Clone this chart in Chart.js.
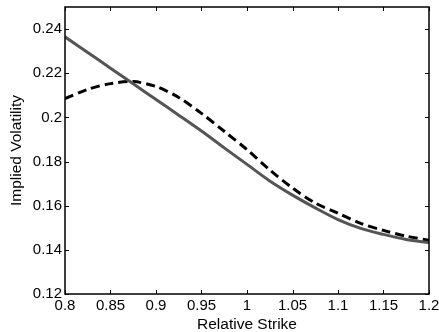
<!DOCTYPE html>
<html>
<head>
<meta charset="utf-8">
<script src="https://cdn.jsdelivr.net/npm/chart.js@4.4.0/dist/chart.umd.min.js"></script>
<style>
  html, body { margin: 0; padding: 0; background: #fff; }
  #wrap { width: 439px; height: 332px; }
</style>
</head>
<body>
<div id="wrap"><canvas id="chart"></canvas></div>
<script>
'use strict'

// relative strike grid
const strikes = [0.8, 0.825, 0.85, 0.875, 0.9, 0.925, 0.95, 0.975, 1.0,
  1.025, 1.05, 1.075, 1.1, 1.125, 1.15, 1.175, 1.2]

// solid grey curve
const volSolid = [0.2365, 0.2294, 0.2223, 0.2152, 0.2081, 0.2010, 0.1938, 0.1862, 0.1787,
  0.1712, 0.1648, 0.1590, 0.1537, 0.1497, 0.1470, 0.1447, 0.1433]

// dashed black curve
const volDashed = [0.2085, 0.2127, 0.2153, 0.2162, 0.2140, 0.2090, 0.2018, 0.1937, 0.1854,
  0.1762, 0.1680, 0.1612, 0.1566, 0.1520, 0.1488, 0.1462, 0.1443]

const xTicks = [0.8, 0.85, 0.9, 0.95, 1, 1.05, 1.1, 1.15, 1.2]
const yTicks = [0.12, 0.14, 0.16, 0.18, 0.2, 0.22, 0.24]

const FONT = 'Liberation Sans, Arial, Helvetica, sans-serif'
const fmt = v => String(Number(v.toFixed(2)))

// box around the plot with inward tick marks on every side
const frameTicks = {
  id: 'frameTicks',
  afterDatasetsDraw(chart) {
    const { ctx, chartArea: a, scales: { x, y } } = chart
    ctx.save()
    ctx.strokeStyle = '#000'
    ctx.lineWidth = 1
    ctx.beginPath()
    xTicks.forEach(v => {
      const px = Math.round(x.getPixelForValue(v)) + 0.5
      ctx.moveTo(px, a.bottom); ctx.lineTo(px, a.bottom - 4)
      ctx.moveTo(px, a.top); ctx.lineTo(px, a.top + 4)
    })
    yTicks.forEach(v => {
      const py = Math.round(y.getPixelForValue(v)) + 0.5
      ctx.moveTo(a.left, py); ctx.lineTo(a.left + 4, py)
      ctx.moveTo(a.right, py); ctx.lineTo(a.right - 4, py)
    })
    ctx.stroke()
    ctx.lineWidth = 1.5
    ctx.strokeRect(a.left, a.top, a.right - a.left, a.bottom - a.top)
    ctx.restore()
  }
}

const toPoints = vals => strikes.map((s, i) => ({ x: s, y: vals[i] }))

const config = {
  type: 'line',
  data: {
    datasets: [
      {
        label: 'solid',
        data: toPoints(volSolid),
        borderColor: '#555555',
        borderWidth: 3,
        pointRadius: 0,
        tension: 0.3,
        fill: false,
      },
      {
        label: 'dashed',
        data: toPoints(volDashed),
        borderColor: '#000000',
        borderWidth: 3,
        borderDash: [9, 5],
        pointRadius: 0,
        tension: 0.3,
        fill: false,
      },
    ],
  },
  options: {
    responsive: true,
    maintainAspectRatio: false,
    animation: false,
    layout: { padding: { top: 7, right: 10, left: 0, bottom: 0 } },
    plugins: { legend: { display: false }, tooltip: { enabled: false } },
    scales: {
      x: {
        type: 'linear',
        min: 0.8,
        max: 1.2,
        grid: { display: false, drawTicks: false },
        border: { display: false },
        afterBuildTicks: s => { s.ticks = xTicks.map(v => ({ value: v })) },
        afterFit: s => { s.height = 38; s.paddingLeft = 0; s.paddingRight = 0 },
        ticks: {
          color: '#000',
          padding: 3,
          maxRotation: 0,
          autoSkip: false,
          font: { family: FONT, size: 15 },
          callback: v => fmt(v),
        },
        title: {
          display: true,
          text: 'Relative Strike',
          color: '#000',
          font: { family: FONT, size: 15.5, lineHeight: 1 },
          padding: { top: 0, bottom: 0 },
        },
      },
      y: {
        type: 'linear',
        min: 0.12,
        max: 0.25,
        grid: { display: false, drawTicks: false },
        border: { display: false },
        afterBuildTicks: s => { s.ticks = yTicks.map(v => ({ value: v })) },
        afterFit: s => { s.width = 65; s.paddingTop = 0; s.paddingBottom = 0 },
        ticks: {
          color: '#000',
          padding: 3,
          autoSkip: false,
          font: { family: FONT, size: 15 },
          callback: v => fmt(v),
        },
        title: {
          display: true,
          text: 'Implied Volatility',
          color: '#000',
          font: { family: FONT, size: 15.5, lineHeight: 1 },
          padding: { top: 9, bottom: 0 },
        },
      },
    },
  },
  plugins: [frameTicks],
}

const myChart = new Chart(document.getElementById('chart'), config)
</script>
</body>
</html>
